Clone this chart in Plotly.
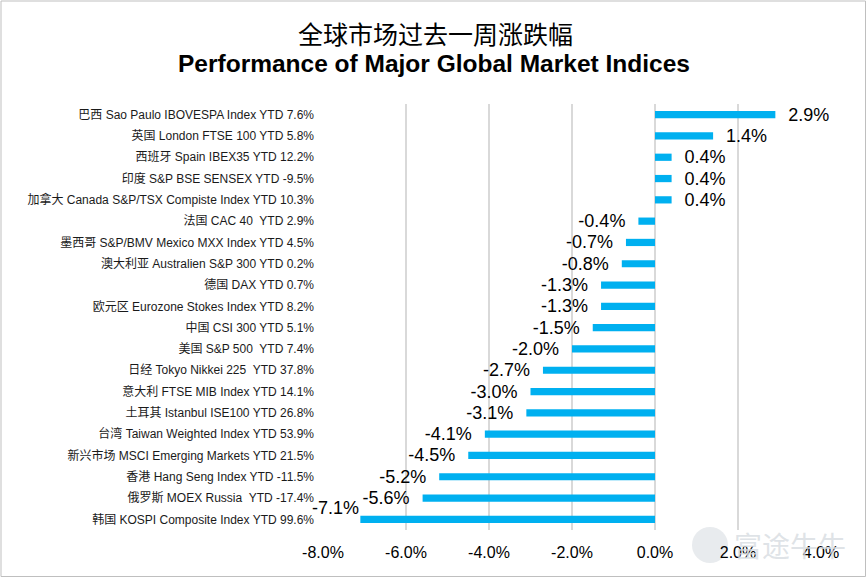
import plotly.graph_objects as go

categories = [
    "巴西 Sao Paulo IBOVESPA Index YTD 7.6%",
    "英国 London FTSE 100 YTD 5.8%",
    "西班牙 Spain IBEX35 YTD 12.2%",
    "印度 S&P BSE SENSEX YTD -9.5%",
    "加拿大 Canada S&P/TSX Compiste Index YTD 10.3%",
    "法国 CAC 40  YTD 2.9%",
    "墨西哥 S&P/BMV Mexico MXX Index YTD 4.5%",
    "澳大利亚 Australien S&P 300 YTD 0.2%",
    "德国 DAX YTD 0.7%",
    "欧元区 Eurozone Stokes Index YTD 8.2%",
    "中国 CSI 300 YTD 5.1%",
    "美国 S&P 500  YTD 7.4%",
    "日经 Tokyo Nikkei 225  YTD 37.8%",
    "意大利 FTSE MIB Index YTD 14.1%",
    "土耳其 Istanbul ISE100 YTD 26.8%",
    "台湾 Taiwan Weighted Index YTD 53.9%",
    "新兴市场 MSCI Emerging Markets YTD 21.5%",
    "香港 Hang Seng Index YTD -11.5%",
    "俄罗斯 MOEX Russia  YTD -17.4%",
    "韩国 KOSPI Composite Index YTD 99.6%",
]
weekly_change = [2.9, 1.4, 0.4, 0.4, 0.4, -0.4, -0.7, -0.8, -1.3, -1.3,
                 -1.5, -2.0, -2.7, -3.0, -3.1, -4.1, -4.5, -5.2, -5.6, -7.1]
tick_vals = [-8, -6, -4, -2, 0, 2, 4]
tick_text = ["-8.0%", "-6.0%", "-4.0%", "-2.0%", "0.0%", "2.0%", "4.0%"]

W, H = 867, 578
ML, MR, MT, MB = 323, 46, 104, 48
pw, ph = W - ML - MR, H - MT - MB

def px_x(p):
    return (p - ML) / pw

def px_y(p):
    return (H - MB - p) / ph

pad = "\u00a0\u00a0"
labels = [(pad + f"{v:.1f}%") if v >= 0 else (f"{v:.1f}%" + pad) for v in weekly_change]
# the last (longest) bar's label is lifted above its bar, as in the original
last_label = labels[-1].strip("\u00a0")
labels[-1] = ""

fig = go.Figure(go.Bar(
    y=categories,
    x=weekly_change,
    orientation="h",
    marker=dict(color="#00B0F0", line=dict(width=0)),
    width=0.34,
    text=labels,
    textposition="outside",
    textfont=dict(family="Liberation Sans, Arial", size=18, color="#000000"),
    constraintext="none",
    cliponaxis=False,
))

fig.add_annotation(
    x=weekly_change[-1], y=categories[-1], xref="x", yref="y",
    text=last_label, showarrow=False, xanchor="right", yanchor="middle",
    yshift=11, xshift=1,
    font=dict(family="Liberation Sans, Arial", size=18, color="#000000"),
)

n = len(categories)
fig.update_layout(
    width=W, height=H,
    margin=dict(l=ML, r=MR, t=MT, b=MB),
    paper_bgcolor="white", plot_bgcolor="white",
    showlegend=False,
    bargap=0.66,
    xaxis=dict(
        range=[-8, 4], tickvals=tick_vals, ticktext=tick_text,
        showgrid=True, gridcolor="#d9d9d9", gridwidth=2,
        zeroline=True, zerolinecolor="#d9d9d9", zerolinewidth=2,
        showline=False, ticks="", ticklabelstandoff=11,
        tickfont=dict(family="Liberation Sans, Arial", size=16, color="#000000"),
        fixedrange=True,
    ),
    yaxis=dict(
        range=[n - 0.5, -0.5], autorange=False,
        showgrid=False, zeroline=False, showline=False,
        ticks="", ticklabelstandoff=8,
        tickfont=dict(family="Liberation Sans, Arial, Noto Sans CJK SC", size=12, color="#1a1a1a"),
    ),
    font=dict(family="Liberation Sans, Noto Sans CJK SC"),
)

fig.add_annotation(
    text="全球市场过去一周涨跌幅", xref="paper", yref="paper",
    x=px_x(435), y=px_y(33), xanchor="center", yanchor="middle",
    showarrow=False,
    font=dict(family="Noto Sans CJK SC", size=25, color="#000000"),
)
fig.add_annotation(
    text="<b>Performance of Major Global Market Indices</b>", xref="paper", yref="paper",
    x=px_x(434), y=px_y(64), xanchor="center", yanchor="middle",
    showarrow=False,
    font=dict(family="Liberation Sans, Arial", size=24.5, color="#000000"),
)

# watermark
fig.add_shape(type="circle", xref="paper", yref="paper",
              x0=px_x(692), x1=px_x(728), y0=px_y(563), y1=px_y(527),
              fillcolor="#e8ebee", line=dict(width=0), layer="below")
fig.add_annotation(
    text="富途牛牛", xref="paper", yref="paper",
    x=px_x(790), y=px_y(545), xanchor="center", yanchor="middle",
    showarrow=False,
    font=dict(family="Noto Sans CJK SC", size=28, color="rgba(215,220,225,0.8)"),
)

# outer border
fig.add_shape(type="rect", xref="paper", yref="paper",
              x0=px_x(1), x1=px_x(W - 1.5), y0=px_y(H - 1.5), y1=px_y(1),
              line=dict(color="#bfbfbf", width=1), fillcolor="rgba(0,0,0,0)")

fig.write_html("out.html")
